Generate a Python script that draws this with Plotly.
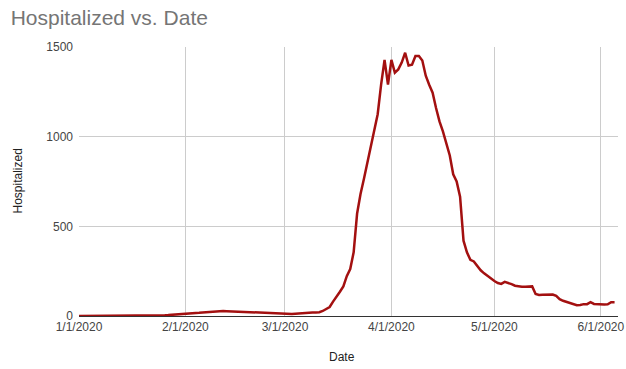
import plotly.graph_objects as go
import pandas as pd

start_date = "2020-01-01"
hospitalized = [
    0, 0, 0, 0, 0, 0, 0, 0, 0, 0,
    0, 0, 0, 0, 0, 0, 0, 0, 0, 1,
    1, 2, 2, 3, 3, 4, 5, 6, 7, 8,
    10, 11, 12, 14, 16, 18, 20, 22, 24, 26,
    27, 28, 28, 27, 26, 25, 24, 23, 22, 21,
    20, 19, 18, 17, 17, 16, 16, 15, 14, 13,
    12, 11, 11, 12, 14, 16, 18, 19, 19, 19,
    21, 28, 38, 50, 80, 105, 135, 165, 222, 262,
    355, 570, 680, 765, 855, 955, 1040, 1125, 1290, 1428,
    1290, 1428, 1357, 1375, 1413, 1468, 1397, 1401, 1450, 1450,
    1425, 1340, 1290, 1245, 1160, 1085, 1030, 962, 895, 790,
    750, 665, 420, 355, 313, 304, 280, 255, 238, 222,
    208, 195, 184, 179, 190, 186, 178, 169, 165, 163,
    163, 165, 165, 123, 117, 118, 118, 119, 120, 112,
    94, 85, 78, 72, 66, 60, 61, 66, 66, 77,
    67, 65, 64, 64, 65, 77, 77,
]
dates = pd.date_range(start_date, periods=len(hospitalized), freq="D")

tick_vals = ["2020-01-01", "2020-02-01", "2020-03-01", "2020-04-01", "2020-05-01", "2020-06-01"]
tick_text = ["1/1/2020", "2/1/2020", "3/1/2020", "4/1/2020", "5/1/2020", "6/1/2020"]
y_ticks = [0, 500, 1000, 1500]

font_family = "Arial, Liberation Sans, sans-serif"

fig = go.Figure()
fig.add_trace(go.Scatter(
    x=dates, y=hospitalized, mode="lines",
    line=dict(color="#a31010", width=2.5),
    showlegend=False,
))

fig.update_layout(
    width=626, height=369,
    margin=dict(l=79, r=8, t=47, b=53, autoexpand=False),
    paper_bgcolor="white", plot_bgcolor="white",
    font=dict(family=font_family, size=12, color="#444444"),
    title=dict(text="Hospitalized vs. Date", x=0.017, xanchor="left",
               y=0.953, yanchor="middle",
               font=dict(family=font_family, size=21, color="#757575")),
    xaxis=dict(
        range=["2020-01-01", "2020-06-06"],
        tickmode="array", tickvals=tick_vals, ticktext=tick_text,
        showgrid=True, gridcolor="#cccccc", gridwidth=1,
        showline=True, linecolor="#333333", linewidth=1,
        ticks="", zeroline=False, automargin=False,
        tickfont=dict(size=12, color="#444444"),
    ),
    yaxis=dict(
        range=[0, 1500],
        tickmode="array", tickvals=y_ticks,
        showgrid=True, gridcolor="#cccccc", gridwidth=1,
        showline=False, zeroline=False, ticks="", automargin=False,
        ticklabelstandoff=5,
        tickfont=dict(size=12, color="#444444"),
    ),
    annotations=[
        dict(text="Date", xref="paper", yref="paper", x=0.488, y=-0.152,
             xanchor="center", yanchor="middle", showarrow=False,
             font=dict(size=12, color="#222222")),
        dict(text="Hospitalized", xref="paper", yref="paper", x=-0.115, y=0.5,
             xanchor="center", yanchor="middle", textangle=-90, showarrow=False,
             font=dict(size=12, color="#222222")),
    ],
)

fig.write_html(
    "out.html",
    config={"displayModeBar": False},
    post_script="document.body.style.margin='0';document.body.style.overflow='hidden';",
)
